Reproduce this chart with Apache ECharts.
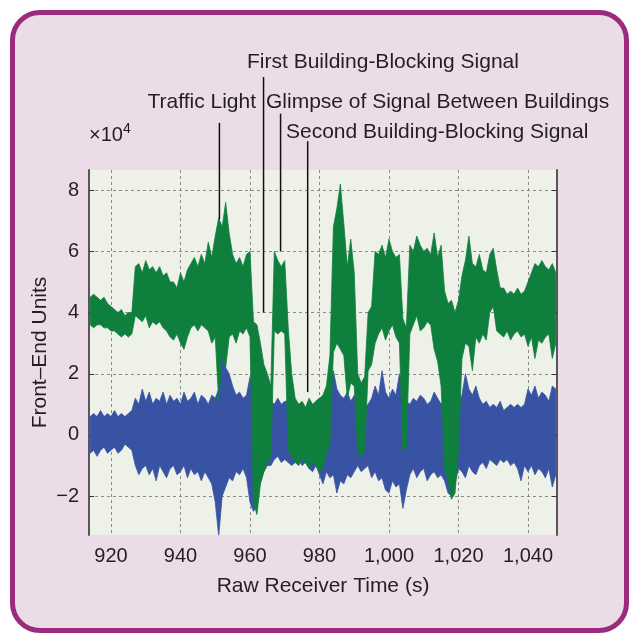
<!DOCTYPE html>
<html>
<head>
<meta charset="utf-8">
<script src="https://cdn.jsdelivr.net/npm/echarts@6/dist/echarts.min.js"></script>
<style>
  html, body { margin: 0; padding: 0; background: #ffffff; }
  #frame { position: absolute; left: 10px; top: 10px; width: 619px; height: 623px; box-sizing: border-box;
           border: 5px solid #9c2a7f; border-radius: 30px; background: #ebdce8; }
  #chart { position: absolute; left: 0; top: 0; width: 629px; height: 633px; }
</style>
</head>
<body>
<div id="frame"></div>
<div id="chart"></div>
<script>
// Sample times (s), one envelope point per second, 914 ... 1048
const tStart = 914;
const binWidth = 1;

// Green series envelope (x10^4 front-end units)
const greenHi = [
  4.5,4.6,4.5,4.4,4.5,4.3,4.2,4.1,4.0,4.1,
  3.9,4.0,4.0,5.5,5.6,5.3,5.7,5.4,5.5,5.3,
  5.5,5.2,5.3,5.0,5.0,4.8,5.3,5.0,5.4,5.6,
  5.8,5.5,5.9,5.6,6.3,5.8,6.5,7.1,6.8,7.6,
  6.6,5.9,5.6,5.8,5.5,5.9,6.0,3.7,3.6,3.0,
  2.3,2.0,1.6,6.0,5.7,5.5,5.7,3.5,2.0,1.2,
  1.0,1.1,0.9,1.2,1.0,1.1,1.2,1.3,1.6,2.6,
  6.8,7.4,8.2,6.9,5.5,6.4,5.3,2.0,1.7,1.9,
  4.0,4.2,6.0,5.9,6.2,5.8,6.4,6.0,5.8,5.9,
  3.8,3.5,6.2,6.0,6.5,6.2,6.0,6.1,5.9,6.6,
  5.8,6.2,4.7,4.3,4.4,4.0,4.4,5.2,5.7,6.5,
  5.6,5.5,5.9,5.4,5.3,5.9,6.1,5.4,4.8,4.8,
  4.6,4.7,4.6,4.8,4.6,4.7,5.0,5.3,5.6,5.5,
  5.7,5.5,5.4,5.6,5.3
];
const greenLo = [
  3.6,3.5,3.6,3.6,3.5,3.5,3.4,3.4,3.3,3.2,
  3.3,3.2,3.3,3.9,3.8,3.7,3.9,3.5,3.7,3.6,
  3.7,3.5,3.4,3.2,3.1,3.3,3.0,2.8,3.2,3.5,
  3.6,3.4,3.6,3.5,3.4,3.0,3.2,1.1,2.6,2.2,
  3.2,3.3,3.0,3.4,3.3,3.5,3.2,-2.2,-2.6,-1.6,
  -1.2,-0.9,-0.8,3.4,3.3,3.4,3.3,-0.5,-0.7,-0.9,
  -1.0,-0.8,-0.9,-1.1,-0.9,-1.0,-1.2,-1.1,-0.6,-0.3,
  2.7,3.0,2.8,2.6,1.2,1.7,1.6,-0.6,-0.7,-0.5,
  2.1,2.3,3.0,3.3,3.5,3.1,3.4,3.6,3.2,3.0,
  -0.5,-0.4,3.3,3.6,3.9,3.4,3.5,3.7,3.6,2.8,
  2.4,1.6,-1.1,-1.5,-2.1,-1.9,-0.5,2.5,3.0,2.9,
  2.1,3.2,3.0,3.3,3.1,4.0,4.2,3.4,3.3,3.2,
  3.4,3.1,3.3,3.4,3.2,3.3,2.9,3.2,2.5,3.1,
  3.0,3.2,3.3,2.5,3.0
];

// Blue series envelope (x10^4 front-end units)
const blueHi = [
  0.6,0.7,0.6,0.8,0.6,0.7,0.6,0.8,0.6,0.7,
  0.6,0.7,0.8,1.2,1.0,1.5,1.1,1.4,1.0,1.2,
  1.1,1.4,1.0,1.3,1.1,1.2,1.0,1.4,1.1,1.2,
  1.4,1.0,1.3,1.2,1.0,1.3,1.2,1.5,2.6,2.2,
  2.0,1.6,1.3,1.4,1.2,1.3,1.9,1.2,1.0,1.2,
  1.1,1.0,1.1,1.0,1.2,1.0,1.1,1.1,1.0,0.9,
  1.0,0.8,0.9,1.0,0.9,1.1,1.2,1.0,1.3,1.6,
  2.1,1.5,1.3,1.2,1.4,1.1,1.3,1.0,1.1,0.9,
  1.0,1.2,1.6,1.3,2.1,1.4,1.2,1.5,1.3,2.0,
  1.4,1.1,1.0,1.2,1.1,1.3,1.2,1.0,1.1,1.4,
  1.2,1.0,1.2,1.0,1.1,1.2,1.0,1.3,2.0,1.5,
  1.3,1.6,1.2,1.0,1.1,0.9,1.0,0.9,1.1,0.8,
  0.9,1.0,0.9,1.0,0.9,1.0,1.5,1.3,1.6,1.2,
  1.4,1.3,1.1,1.6,1.5
];
const blueLo = [
  -0.6,-0.5,-0.7,-0.5,-0.4,-0.6,-0.5,-0.4,-0.6,-0.5,
  -0.3,-0.4,-0.5,-1.0,-1.3,-1.1,-1.0,-1.3,-1.1,-1.5,
  -1.0,-1.2,-1.4,-1.1,-1.0,-1.3,-1.2,-1.0,-1.4,-1.1,
  -1.3,-1.2,-1.5,-1.2,-1.4,-1.6,-2.2,-3.3,-2.0,-1.7,
  -1.4,-1.5,-1.2,-1.3,-1.1,-1.4,-2.2,-2.5,-2.3,-1.5,
  -1.2,-1.0,-1.0,-0.8,-0.7,-0.9,-0.8,-0.9,-1.0,-0.9,
  -0.8,-1.0,-0.9,-1.1,-1.2,-1.0,-1.3,-1.6,-1.2,-1.4,
  -1.3,-1.9,-1.5,-1.6,-1.3,-1.4,-1.2,-1.0,-1.2,-1.1,
  -1.0,-1.4,-1.2,-1.5,-1.4,-1.8,-1.9,-1.5,-1.7,-1.6,
  -2.4,-1.8,-1.3,-1.1,-1.4,-1.2,-1.1,-1.5,-1.3,-1.2,
  -1.4,-1.3,-1.5,-1.9,-2.0,-1.6,-1.1,-1.2,-1.4,-1.0,
  -1.2,-1.3,-1.0,-0.9,-1.1,-0.8,-0.9,-1.0,-0.8,-0.9,
  -0.8,-1.0,-0.9,-1.1,-1.5,-1.0,-1.2,-1.0,-1.3,-1.1,
  -1.2,-1.4,-1.1,-1.7,-1.3
];

// Axes
const xMin = 913.67, xMax = 1048.35;
const yMin = -3.27, yMax = 8.66;
const xTicks = [920, 940, 960, 980, 1000, 1020, 1040];
const yTicks = [-2, 0, 2, 4, 6, 8];

// Annotations: time, top of leader (value), bottom of leader (value)
const annTimes = [951.2, 963.9, 968.8, 976.6];
const annTop   = [10.2, 11.7, 10.5, 9.6];
const annEnd   = [7.05, 4.0, 6.0, 1.4];
const annTexts = ['Traffic Light', 'First Building-Blocking Signal',
                  'Glimpse of Signal Between Buildings', 'Second Building-Blocking Signal'];

const FONT = "'Liberation Sans', Arial, Helvetica, sans-serif";
const TXT = '#231f20';

function toRows(lo, hi) {
  return lo.map((v, i) => [tStart + i * binWidth, v, hi[i]]);
}
// Draws the envelope band of one series as a filled polygon, using the chart's scales
function bandRenderer(color, lo, hi) {
  return function (params, api) {
    if (params.dataIndex !== 0) return null;
    const pts = [];
    for (let i = 0; i < hi.length; i++) pts.push(api.coord([tStart + i * binWidth, hi[i]]));
    for (let i = lo.length - 1; i >= 0; i--) pts.push(api.coord([tStart + i * binWidth, lo[i]]));
    const cs = params.coordSys;
    return {
      type: 'group',
      clipPath: { type: 'rect', shape: { x: cs.x, y: cs.y, width: cs.width, height: cs.height } },
      children: [{ type: 'polygon', shape: { points: pts },
                   style: { fill: color, stroke: color, lineWidth: 0.8, lineJoin: 'miter' } }]
    };
  };
}
function fmtX(v) { return v >= 1000 ? Math.floor(v / 1000) + ',' + String(v % 1000).padStart(3, '0') : String(v); }
function fmtY(v) { return v < 0 ? '\u2212' + Math.abs(v) : String(v); }

const chart = echarts.init(document.getElementById('chart'), null, { renderer: 'canvas' });
const axisLine = { show: true, lineStyle: { color: '#5a5558', width: 2 } };
const tick = { show: true, inside: true, length: 5, lineStyle: { color: '#333', width: 1 } };
const split = { show: true, lineStyle: { color: '#8a8a8a', type: [3, 3], width: 1 } };

chart.setOption({
  backgroundColor: 'transparent',
  animation: false,
  grid: { left: 89, right: 72, top: 170, bottom: 98, show: true, backgroundColor: '#eef1e7', borderWidth: 0 },
  xAxis: [
    { type: 'value', min: xMin, max: xMax, position: 'bottom',
      axisLine: axisLine, axisTick: Object.assign({ customValues: xTicks }, tick),
      axisLabel: { customValues: xTicks, formatter: fmtX, color: TXT, fontSize: 20, fontFamily: FONT, margin: 11 },
      splitLine: split,
      name: 'Raw Receiver Time (s)', nameLocation: 'middle', nameGap: 41, nameMoveOverlap: false,
      nameTextStyle: { color: TXT, fontSize: 21, fontFamily: FONT } },
    { type: 'value', min: xMin, max: xMax, position: 'top',
      axisLine: axisLine, axisTick: Object.assign({ customValues: xTicks }, tick),
      axisLabel: { show: false }, splitLine: { show: false } }
  ],
  yAxis: [
    { type: 'value', min: yMin, max: yMax, position: 'left',
      axisLine: axisLine, axisTick: Object.assign({ customValues: yTicks }, tick),
      axisLabel: { customValues: yTicks, formatter: fmtY, color: TXT, fontSize: 20, fontFamily: FONT, margin: 10 },
      splitLine: split,
      name: 'Front\u2013End Units', nameLocation: 'middle', nameGap: 38, nameMoveOverlap: false,
      nameTextStyle: { color: TXT, fontSize: 21, fontFamily: FONT } },
    { type: 'value', min: yMin, max: yMax, position: 'right',
      axisLine: axisLine, axisTick: Object.assign({ customValues: yTicks }, tick),
      axisLabel: { show: false }, splitLine: { show: false } }
  ],
  series: [
    { type: 'custom', name: 'blue', renderItem: bandRenderer('#3953a4', blueLo, blueHi), data: toRows(blueLo, blueHi),
      encode: { x: 0, y: [1, 2] }, z: 2 },
    { type: 'custom', name: 'green', renderItem: bandRenderer('#0f7f3e', greenLo, greenHi), data: toRows(greenLo, greenHi),
      encode: { x: 0, y: [1, 2] }, z: 3 }
  ]
});

// Leader lines through the chart's own scales, plus annotation text
const graphics = [];
for (let i = 0; i < annTimes.length; i++) {
  const p1 = chart.convertToPixel({ xAxisIndex: 0, yAxisIndex: 0 }, [annTimes[i], annTop[i]]);
  const p2 = chart.convertToPixel({ xAxisIndex: 0, yAxisIndex: 0 }, [annTimes[i], annEnd[i]]);
  graphics.push({ type: 'line', shape: { x1: p1[0], y1: p1[1], x2: p2[0], y2: p2[1] },
                  style: { stroke: '#111', lineWidth: 1.5 }, z: 10 });
}
const textStyle = { fill: TXT, fontSize: 21, fontFamily: FONT, verticalAlign: 'middle' };
graphics.push({ type: 'text', x: 256, y: 102, style: Object.assign({ text: annTexts[0], align: 'right' }, textStyle), z: 10 });
graphics.push({ type: 'text', x: 247, y: 62, style: Object.assign({ text: annTexts[1], align: 'left' }, textStyle), z: 10 });
graphics.push({ type: 'text', x: 266, y: 102, style: Object.assign({ text: annTexts[2], align: 'left' }, textStyle), z: 10 });
graphics.push({ type: 'text', x: 286, y: 132, style: Object.assign({ text: annTexts[3], align: 'left' }, textStyle), z: 10 });
graphics.push({ type: 'text', x: 89, y: 135, z: 10,
  style: { text: '\u00d710{s|4}', fill: TXT, fontSize: 20, fontFamily: FONT, verticalAlign: 'middle', align: 'left',
           rich: { s: { fontSize: 14, fontFamily: FONT, fill: TXT, verticalAlign: 'top', padding: [0, 0, 12, 0] } } } });
chart.setOption({ graphic: graphics });
</script>
</body>
</html>
